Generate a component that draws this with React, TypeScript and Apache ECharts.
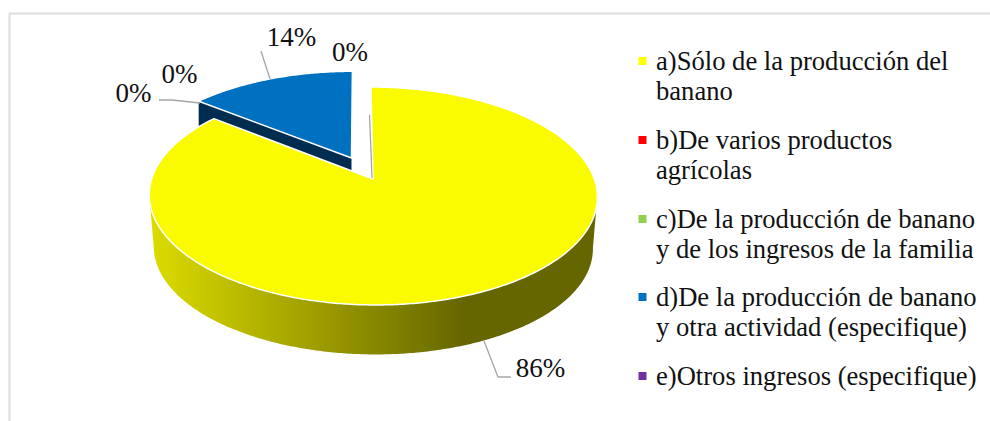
import React, { useEffect, useRef } from "react";
import * as echarts from "echarts";

const categories = [
  "a)Sólo de la producción del\nbanano",
  "b)De varios productos\nagrícolas",
  "c)De la producción de banano\ny de los ingresos de la familia",
  "d)De la producción de banano\ny otra actividad (especifique)",
  "e)Otros ingresos (especifique)",
];
const values = [85.7, 0, 0, 14.3, 0];
const exploded = [0, 0, 0, 0.226, 0];
const faceColors = ["#FAFA00", "#FF0000", "#92D050", "#0070C0", "#7030A0"];
const legendColors = ["#FFFF00", "#FF0000", "#92D050", "#0070C0", "#7030A0"];

// Layout of the labels by category: text centre and leader line
const labelCentres = [[540.5, 368], [133.5, 93], [179.5, 74], [291.5, 37], [350, 52]];
const leaders: number[][][] = [
  [[484, 341], [498, 377], [511, 377]],
  [[159, 100], [172, 100], [200, 103]],
  [],
  [[261, 51], [270, 79]],
  [[369.5, 115], [372, 178]],
];
const legendRows = [61, 140, 219, 297, 376];

// Projection of the pie disc (a homography that gives Excel-like 3D perspective)
const APEX_X = 373;
const APEX_Y = 179;
const A = 221.3;
const B = 106.3;
const K = 0.156;
const SHEAR = 2.3;
const DEPTH = 52;
const BASE_SCALE = 0.98;
const TAU = Math.PI * 2;

function project(x: number, y: number, base: boolean): number[] {
  const w = 1 - K * y;
  const px = (A * x + SHEAR * y) / w;
  const py = (B * y) / w;
  const s = base ? BASE_SCALE : 1;
  return [APEX_X + px * s, APEX_Y + py * s + (base ? DEPTH : 0)];
}

function rimPoints(t0: number, t1: number, ox: number, oy: number, base: boolean) {
  const n = Math.max(2, Math.ceil(Math.abs(t1 - t0) / 0.01));
  const pts: number[][] = [];
  for (let i = 0; i <= n; i++) {
    const t = t0 + ((t1 - t0) * i) / n;
    pts.push(project(ox + Math.sin(t), oy - Math.cos(t), base));
  }
  return pts;
}

const total = values.reduce((a, b) => a + b, 0);
const starts = values.map((_, i) =>
  (values.slice(0, i).reduce((a, b) => a + b, 0) / total) * TAU
);

function renderSlice(_params: any, api: any) {
  const i = api.value(0) as number;
  const v = api.value(1) as number;
  const children: any[] = [];
  if (v > 0) {
    const t0 = starts[i];
    const t1 = t0 + (v / total) * TAU;
    const mid = (t0 + t1) / 2;
    const ox = exploded[i] * Math.sin(mid);
    const oy = -exploded[i] * Math.cos(mid);
    const isMain = t1 - t0 > Math.PI;
    const fc = Math.acos(-K);
    const wallColor = isMain
      ? {
          type: "linear",
          x: 0,
          y: 0,
          x2: 1,
          y2: 0,
          colorStops: [
            { offset: 0, color: "#DCDC00" },
            { offset: 0.7, color: "#666600" },
            { offset: 1, color: "#666600" },
          ],
        }
      : "#002C50";
    // Outer wall, front half of the rim only
    const a = Math.max(t0, fc);
    const b = Math.min(t1, TAU - fc);
    if (b > a) {
      children.push({
        type: "polygon",
        z2: 1,
        shape: {
          points: [...rimPoints(a, b, ox, oy, false), ...rimPoints(b, a, ox, oy, true)],
        },
        style: { fill: wallColor },
      });
    }
    // Cut wall on the starting edge
    if (!isMain) {
      const e = project(ox + Math.sin(t0), oy - Math.cos(t0), false);
      const eb = project(ox + Math.sin(t0), oy - Math.cos(t0), true);
      const c = project(ox, oy, false);
      const cb = project(ox, oy, true);
      children.push({
        type: "polygon",
        z2: 1,
        shape: { points: [e, c, [c[0], cb[1]], [e[0], eb[1]]] },
        style: { fill: wallColor },
      });
    }
    // Top face
    children.push({
      type: "polygon",
      z2: isMain ? 3 : 2,
      shape: { points: [project(ox, oy, false), ...rimPoints(t0, t1, ox, oy, false)] },
      style: { fill: faceColors[i], stroke: "#FFFFFF", lineWidth: 1.5, lineJoin: "round" },
    });
  }
  if (leaders[i].length) {
    children.push({
      type: "polyline",
      z2: 4,
      shape: { points: leaders[i] },
      style: { fill: "none", stroke: "#A6A6A6", lineWidth: 1.3 },
    });
  }
  children.push({
    type: "text",
    z2: 5,
    x: labelCentres[i][0],
    y: labelCentres[i][1],
    style: {
      text: `${Math.round(v)}%`,
      font: '27px "Liberation Serif"',
      fill: "#111111",
      align: "center",
      verticalAlign: "middle",
    },
  });
  return { type: "group", children };
}

export default function App() {
  const ref = useRef<HTMLDivElement>(null);
  useEffect(() => {
    const chart = echarts.init(ref.current!, null, { renderer: "svg" });
    const legendGraphics: any[] = [];
    categories.forEach((name, i) => {
      legendGraphics.push({
        type: "rect",
        shape: { x: 638.5, y: legendRows[i] - 4, width: 8, height: 8 },
        style: { fill: legendColors[i] },
      });
      name.split("\n").forEach((line, j) => {
        legendGraphics.push({
          type: "text",
          x: 656,
          y: legendRows[i] + j * 30,
          style: {
            text: line,
            font: '26.6px "Liberation Serif"',
            fill: "#111111",
            verticalAlign: "middle",
          },
        });
      });
    });
    chart.setOption({
      animation: false,
      backgroundColor: "#FFFFFF",
      graphic: [
        {
          type: "polyline",
          shape: { points: [[9.5, 421], [9.5, 13.5], [990, 13.5]] },
          style: { fill: "none", stroke: "#DEDEDE", lineWidth: 2 },
        },
        ...legendGraphics,
      ],
      series: [
        {
          type: "custom",
          coordinateSystem: "none",
          renderItem: renderSlice,
          data: values.map((v, i) => [i, v]),
          silent: true,
        },
      ],
    });
    return () => chart.dispose();
  }, []);
  return (
    <div
      ref={ref}
      style={{ position: "absolute", left: 0, top: 0, width: 990, height: 421 }}
    />
  );
}
